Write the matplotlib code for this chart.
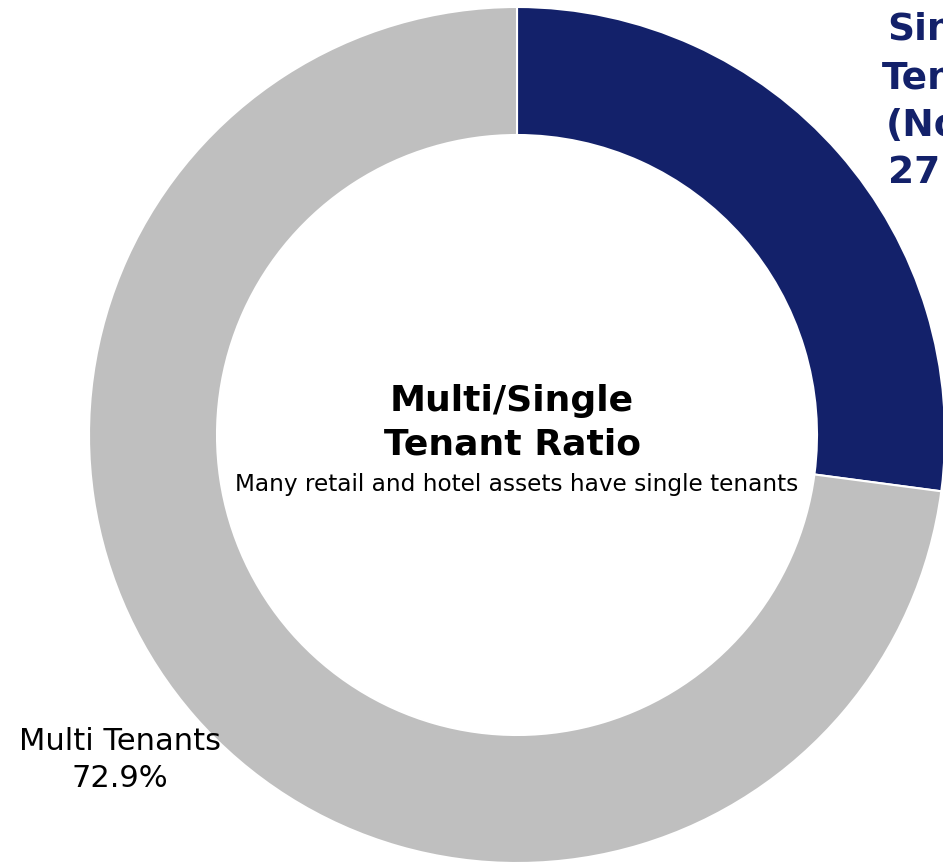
import matplotlib
matplotlib.use("Agg")
import matplotlib.pyplot as plt

# tenant mix (%)
labels = ["Single\nTenant\n(Note)", "Multi Tenants"]
shares = [27.1, 72.9]
colors = ["#13216A", "#BFBFBF"]

W, H = 943, 865
fig = plt.figure(figsize=(W / 100, H / 100), dpi=100)
ax = fig.add_axes([0, 0, 1, 1])

cx, cy = 517, H - 435
ax.pie(shares, colors=colors, startangle=90, counterclock=False,
       radius=428, center=(cx, cy),
       wedgeprops=dict(width=128, edgecolor="white", linewidth=1.5))
ax.set_xlim(0, W)
ax.set_ylim(0, H)
ax.set_aspect("equal")
ax.axis("off")

# slice labels (the single-tenant one runs off the right edge, as in the source)
ax.text(953, H - 102, f"{labels[0]}\n{shares[0]:.1f}%", ha="center", va="center",
        fontsize=27, fontweight="bold", color=colors[0], linespacing=1.42)
ax.text(120, H - 760, f"{labels[1]}\n{shares[1]:.1f}%", ha="center", va="center",
        fontsize=22, color="black", linespacing=1.35)

# centre title
ax.text(cx - 5, H - 423, "Multi/Single\nTenant Ratio", ha="center", va="center",
        fontsize=26, fontweight="bold", color="black", linespacing=1.35)
ax.text(cx, H - 484, "Many retail and hotel assets have single tenants",
        ha="center", va="center", fontsize=16.7, color="black")

fig.savefig("out.png", dpi=100, facecolor="white")
